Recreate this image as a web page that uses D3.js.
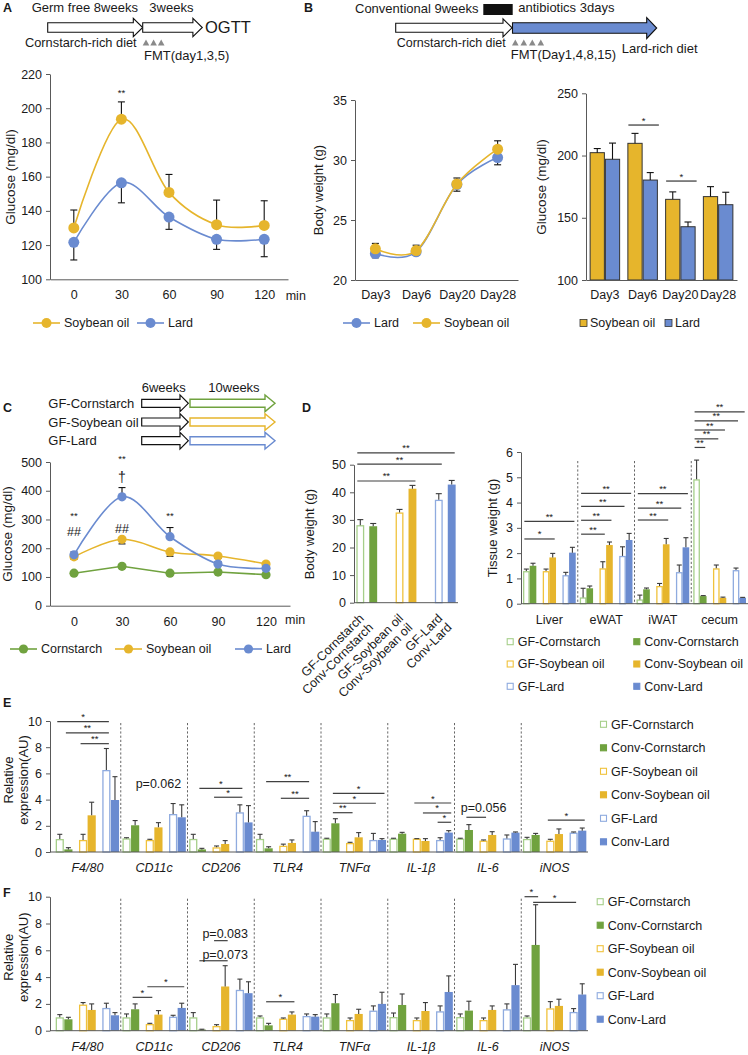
<!DOCTYPE html>
<html><head><meta charset="utf-8">
<script src="https://cdn.jsdelivr.net/npm/d3@7"></script>
<style>
body{margin:0;background:#fff}
svg{display:block;font-family:"Liberation Sans",Arial,sans-serif}
</style></head><body>
<svg id="fig" width="748" height="1055"></svg>
<script>
// ---- data ----
const aTimes = ["0", "30", "60", "90", "120"];
const aSoy = [130, 193.6, 150.8, 131.9, 131.5];
const aSoyErr = [10.5, 10.1, 10.5, 14.4, 14.4];
const aLard = [121.6, 156.4, 136.4, 123.4, 123.4];
const aLardErr = [10.3, 11.7, 7.2, 5.9, 10.2];

const bDays = ["Day3", "Day6", "Day20", "Day28"];
const bwSoy = [22.6, 22.45, 28.0, 30.9];
const bwSoyErr = [0.45, 0.45, 0.5, 0.7];
const bwLard = [22.2, 22.35, 27.95, 30.2];
const bwLardErr = [0.35, 0.3, 0.55, 0.6];
const bgSoy = [202.3, 209.8, 164.8, 167];
const bgSoyErr = [3.3, 8, 6, 8];
const bgLard = [197, 180.3, 142.8, 160.5];
const bgLardErr = [13, 6, 3.8, 10];

const cTimes = ["0", "30", "60", "90", "120"];
const cCorn = [113, 137, 113, 117, 108];
const cCornErr = [5, 6, 5, 5, 5];
const cSoy = [170, 231, 187, 173, 145];
const cSoyErr = [8, 16, 15, 8, 8];
const cLard = [177, 379, 240, 145, 130];
const cLardErr = [10, 32, 32, 8, 6];
// [time, text, glucose level]
const cNotes = [["0", "**", 321], ["0", "##", 257], ["30", "**", 518], ["30", "†", 449], ["30", "##", 269], ["60", "**", 321]];

const SERIES = ["GF-Cornstarch", "Conv-Cornstarch", "GF-Soybean oil", "Conv-Soybean oil", "GF-Lard", "Conv-Lard"];
const diets = ["Cornstarch", "Soybean oil", "Lard"];

const dbVals = [28.1, 27.7, 32.7, 41.3, 37.3, 42.8];
const dbErr = [2.0, 1.0, 1.1, 1.2, 2.2, 1.5];
const dbSig = [[0, 0, 3, 44.1, "**"], [0, 0, 4, 50.2, "**"], [0, 0, 5, 54.3, "**"]];

const tissues = ["Liver", "eWAT", "iWAT", "cecum"];
const tVals = [
  [1.29, 0.25, 0.17, 4.92],
  [1.5, 0.61, 0.57, 0.3],
  [1.29, 1.4, 0.7, 1.4],
  [1.83, 2.32, 2.35, 0.23],
  [1.13, 1.89, 1.25, 1.33],
  [2.02, 2.52, 2.23, 0.23]
];
const tErr = [
  [0.08, 0.36, 0.17, 0.76],
  [0.1, 0.09, 0.05, 0.02],
  [0.08, 0.26, 0.1, 0.13],
  [0.16, 0.12, 0.23, 0.03],
  [0.11, 0.36, 0.28, 0.08],
  [0.21, 0.26, 0.38, 0.02]
];
const tSig = [
  [0, 0, 5, 3.26, "**"], [0, 0, 3, 2.56, "*"],
  [1, 0, 2, 2.75, "**"], [1, 0, 3, 3.3, "**"], [1, 0, 4, 3.85, "**"], [1, 0, 5, 4.36, "**"],
  [2, 0, 3, 3.31, "**"], [2, 0, 4, 3.78, "**"], [2, 0, 5, 4.35, "**"],
  [3, 0, 1, 6.18, "**"], [3, 0, 2, 6.52, "**"], [3, 0, 3, 6.87, "**"], [3, 0, 4, 7.23, "**"], [3, 0, 5, 7.59, "**"]
];

const genes = ["F4/80", "CD11c", "CD206", "TLR4", "TNFα", "IL-1β", "IL-6", "iNOS"];
const eVals = [
  [0.99, 1.04, 1.0, 1.0, 1.02, 1.02, 1.02, 1.0],
  [0.2, 2.04, 0.2, 0.28, 2.19, 1.4, 1.68, 1.3],
  [0.92, 0.92, 0.36, 0.48, 0.69, 1.02, 0.87, 0.87],
  [2.8, 1.88, 0.61, 0.69, 1.12, 0.84, 1.3, 1.37],
  [6.26, 2.9, 3.03, 2.77, 0.92, 0.92, 1.04, 1.48],
  [3.97, 2.65, 2.26, 1.55, 0.92, 1.48, 1.48, 1.63]
];
const eErr = [
  [0.36, 0.05, 0.35, 0.35, 0.03, 0.03, 0.03, 0.12],
  [0.13, 0.36, 0.08, 0.12, 0.35, 0.1, 0.41, 0.12],
  [0.43, 0.05, 0.1, 0.12, 0.05, 0.0, 0.05, 0.1],
  [1.0, 0.36, 0.26, 0.23, 0.36, 0.18, 0.25, 0.39],
  [1.64, 0.8, 0.57, 0.38, 0.5, 0.17, 0.26, 0.05],
  [1.78, 0.95, 1.28, 0.77, 0.1, 0.15, 0.05, 0.2]
];
const eSig = [
  [0, 0, 4, 9.95, "*"], [0, 1, 4, 9.1, "**"], [0, 2, 4, 8.27, "**"],
  [2, 1, 4, 4.86, "*"], [2, 2, 4, 4.18, "*"],
  [3, 1, 4, 5.37, "**"], [3, 2, 4, 4.1, "**"],
  [4, 1, 5, 4.48, "*"], [4, 1, 4, 3.72, "*"], [4, 1, 2, 3.0, "**"],
  [5, 2, 5, 3.74, "*"], [5, 3, 5, 2.98, "*"], [5, 4, 5, 2.27, "*"],
  [6, 1, 2, 2.65, ""],
  [7, 2, 5, 2.44, "*"]
];
const eNotes = [[1, 3, 4.89, "p=0.062"], [6, 2, 3.05, "p=0.056"]];

const fVals = [
  [1.0, 1.0, 1.0, 1.0, 1.0, 1.02, 1.02, 1.0],
  [0.85, 1.6, 0.08, 0.4, 2.05, 1.92, 1.5, 6.4],
  [1.95, 0.5, 0.35, 0.9, 0.8, 0.8, 0.8, 1.67],
  [1.55, 1.2, 3.3, 1.2, 1.25, 1.47, 1.55, 1.85],
  [1.7, 1.05, 3.05, 1.1, 1.5, 1.45, 1.6, 1.4],
  [1.15, 1.7, 2.8, 1.05, 2.0, 2.89, 3.4, 2.7]
];
const fErr = [
  [0.2, 0.25, 0.35, 0.1, 0.25, 0.3, 0.23, 0.1],
  [0.15, 0.4, 0.03, 0.15, 0.65, 0.82, 0.7, 3.0],
  [0.15, 0.05, 0.1, 0.05, 0.15, 0.15, 0.15, 0.5],
  [0.45, 0.3, 1.55, 0.2, 0.35, 0.63, 0.3, 0.5],
  [0.35, 0.1, 0.8, 0.15, 0.35, 0.4, 0.4, 0.25],
  [0.2, 0.35, 0.85, 0.15, 0.87, 1.2, 1.55, 0.8]
];
const fSig = [
  [1, 1, 2, 2.49, "*"], [1, 2, 5, 3.28, "*"],
  [2, 2, 3, 6.72, ""], [2, 1, 3, 5.22, ""],
  [3, 1, 3, 2.16, "*"],
  [7, 0, 1, 10.0, "*"], [7, 1, 4, 9.58, "*"]
];
const fNotes = [[2, 3, 6.92, "p=0.083"], [2, 3, 5.35, "p=0.073"]];

// ---- style ----
const YEL = "#E6B52C", BLU = "#6A8BD0", GRN = "#70A23F";
const SER_STROKE = ["#A6CF8A", GRN, "#F0C23C", YEL, "#8FABDF", BLU];
const SER_OPEN = [true, false, true, false, true, false];
const AX = "#595959", INK = "#1a1a1a";
const FS = 12.5;

const svg = d3.select("#fig");

function T(x, y, s, o = {}) {
  return svg.append("text").attr("x", x).attr("y", y)
    .attr("font-size", o.size || FS).attr("fill", o.fill || INK)
    .attr("text-anchor", o.anchor || "start")
    .attr("font-weight", o.weight || null)
    .attr("font-style", o.italic ? "italic" : null)
    .attr("dy", o.dy || null)
    .text(s);
}
function yLabel(lines, x, yc, size, gap) {
  const t = svg.append("text").attr("transform", `translate(${x},${yc}) rotate(-90)`)
    .attr("text-anchor", "middle").attr("font-size", size).attr("fill", INK);
  lines.forEach((l, i) => t.append("tspan").attr("x", 0).attr("dy", i ? gap : "0.35em").text(l));
}
function styleAxis(ax) {
  ax.attr("font-size", FS).attr("font-family", null);
  ax.select(".domain").attr("stroke", AX);
  ax.selectAll(".tick line").attr("stroke", AX);
  ax.selectAll(".tick text").attr("fill", INK);
  return ax;
}
function leftAxis(y, x, ticks) {
  return styleAxis(svg.append("g").attr("transform", `translate(${x},0)`)
    .call(d3.axisLeft(y).tickValues(ticks).tickFormat(d3.format("~g"))
      .tickSize(4).tickSizeOuter(0).tickPadding(4)));
}
function bottomAxis(x, y, pad, x0) {
  const ax = styleAxis(svg.append("g").attr("transform", `translate(0,${y})`)
    .call(d3.axisBottom(x).tickSize(0).tickPadding(pad)));
  if (x0 !== undefined) {
    ax.select(".domain").remove();
    svg.append("line").attr("x1", x0).attr("x2", x.range()[1]).attr("y1", y).attr("y2", y).attr("stroke", AX);
  }
  return ax;
}
function arrow(x0, x1, yc, bh, hh, hl, fill, stroke, sw) {
  const p = [[x0, yc - bh / 2], [x1 - hl, yc - bh / 2], [x1 - hl, yc - hh / 2], [x1, yc],
    [x1 - hl, yc + hh / 2], [x1 - hl, yc + bh / 2], [x0, yc + bh / 2]];
  svg.append("path").attr("d", "M" + p.join("L") + "Z").attr("fill", fill)
    .attr("stroke", stroke).attr("stroke-width", sw || 1.1).attr("stroke-linejoin", "miter");
}
function triangles(x, n, step) {
  d3.range(n).forEach(i => {
    const x0 = x + i * step;
    svg.append("path").attr("d", `M${x0},45.5L${x0 + 3.3},39.5L${x0 + 6.6},45.5Z`).attr("fill", "#8a8a8a");
  });
}
function errLine(x, y0, y1, cap, color) {
  svg.append("line").attr("x1", x).attr("x2", x).attr("y1", y0).attr("y2", y1)
    .attr("stroke", color || "#111").attr("stroke-width", 1.1);
  svg.append("line").attr("x1", x - cap / 2).attr("x2", x + cap / 2).attr("y1", y1).attr("y2", y1)
    .attr("stroke", color || "#111").attr("stroke-width", 1.1);
}
function lineSeries(x, y, cats, vals, errs, dir, color, r, curve) {
  const pts = cats.map((c, i) => [x(c), y(vals[i])]);
  cats.forEach((c, i) => errLine(x(c), y(vals[i]), y(vals[i] + dir * errs[i]), 7));
  svg.append("path").attr("d", d3.line().curve(curve)(pts)).attr("fill", "none")
    .attr("stroke", color).attr("stroke-width", 1.6);
  svg.append("g").selectAll("circle").data(pts).join("circle")
    .attr("cx", d => d[0]).attr("cy", d => d[1]).attr("r", r).attr("fill", color);
}
function lineLegend(items, y, r) {
  items.forEach(([x, label, color]) => {
    svg.append("line").attr("x1", x).attr("x2", x + 27).attr("y1", y).attr("y2", y)
      .attr("stroke", color).attr("stroke-width", 1.6);
    svg.append("circle").attr("cx", x + 13.5).attr("cy", y).attr("r", r).attr("fill", color);
    T(x + 31, y, label, { dy: "0.35em" });
  });
}
function sqLegend(items, size) {
  items.forEach(([x, y, s]) => {
    const open = SER_OPEN[s];
    svg.append("rect").attr("x", x + 0.5).attr("y", y - size / 2 + 0.5).attr("width", size - 1).attr("height", size - 1)
      .attr("fill", open ? "#fff" : SER_STROKE[s]).attr("stroke", SER_STROKE[s]).attr("stroke-width", 1.1);
    T(x + size + 4, y, SERIES[s], { dy: "0.35em" });
  });
}
function drawBars(vals, errs, xOf, w, y, cap) {
  vals.forEach((row, s) => row.forEach((v, g) => {
    const x = xOf(g, s), y0 = y(0), yv = y(v);
    const sw = 1.3;
    svg.append("rect")
      .attr("x", SER_OPEN[s] ? x + sw / 2 : x).attr("y", SER_OPEN[s] ? yv + sw / 2 : yv)
      .attr("width", SER_OPEN[s] ? w - sw : w).attr("height", Math.max(0, y0 - yv - (SER_OPEN[s] ? sw / 2 : 0)))
      .attr("fill", SER_OPEN[s] ? "#fff" : SER_STROKE[s])
      .attr("stroke", SER_OPEN[s] ? SER_STROKE[s] : "none").attr("stroke-width", sw);
    errLine(x + w / 2, yv, y(v + errs[s][g]), cap, "#3a3a3a");
  }));
}
function sigDraw(list, cx, y, pad) {
  list.forEach(([g, a, b, v, t]) => {
    const x1 = cx(g, a) - pad, x2 = cx(g, b) + pad, yy = y(v);
    svg.append("line").attr("x1", x1).attr("x2", x2).attr("y1", yy).attr("y2", yy)
      .attr("stroke", "#404040").attr("stroke-width", 1.2);
    if (t) T((x1 + x2) / 2, yy - 1.5, t, { size: 9.5, anchor: "middle" });
  });
}
function notesDraw(list, cx, y) {
  list.forEach(([g, s, v, t]) => T(cx(g, s), y(v), t, { anchor: "middle" }));
}
function nested(groups, range, pI, pO, bI) {
  const gx = d3.scaleBand().domain(d3.range(groups.length)).range(range);
  const px = d3.scaleBand().domain([0, 1, 2]).range([0, gx.bandwidth()]).paddingInner(pI).paddingOuter(pO);
  const bx = d3.scaleBand().domain([0, 1]).range([0, px.bandwidth()]).paddingInner(bI);
  const gl = d3.scaleBand().domain(groups).range(range);
  const left = (g, s) => gx(g) + px(Math.floor(s / 2)) + bx(s % 2);
  return { gx, gl, w: bx.bandwidth(), left, center: (g, s) => left(g, s) + bx.bandwidth() / 2 };
}
function separators(gx, n, yTop, yBot) {
  d3.range(1, n).forEach(i => svg.append("line").attr("x1", gx(i)).attr("x2", gx(i))
    .attr("y1", yTop).attr("y2", yBot).attr("stroke", "#555").attr("stroke-width", 0.9)
    .attr("stroke-dasharray", "2.2,2"));
}

// ---- panel letters ----
[["A", 3, 12], ["B", 304, 12], ["C", 3, 412], ["D", 302, 412], ["E", 3, 707], ["F", 3, 897]]
  .forEach(([s, x, y]) => T(x, y, s, { weight: "bold", size: 12.5 }));

// ---- A schematic ----
T(31.7, 12, "Germ free 8weeks", { size: 13 });
T(149.3, 12, "3weeks", { size: 13 });
arrow(47.7, 142.7, 27.5, 9.6, 18.4, 9.4, "#fff", "#111");
arrow(142.7, 202.3, 27.5, 9.6, 18.4, 9.4, "#fff", "#111");
T(205, 33.3, "OGTT", { size: 16.5 });
T(25, 47.3, "Cornstarch-rich diet", { size: 12.8 });
triangles(142.7, 3, 7.6);
T(144, 59.5, "FMT(day1,3,5)", { size: 13 });

// ---- A chart ----
{
  const x = d3.scalePoint().domain(aTimes).range([50, 288]).padding(0.5);
  const y = d3.scaleLinear().domain([100, 220]).range([279.3, 74]);
  leftAxis(y, 50, d3.range(100, 221, 20));
  bottomAxis(x, 279.3, 11);
  T(285.7, 299.5, "min");
  yLabel(["Glucose (mg/dl)"], 10, 177, 13.5);
  const curve = d3.curveCardinal.tension(0);
  lineSeries(x, y, aTimes, aLard, aLardErr, -1, BLU, 5.5, curve);
  lineSeries(x, y, aTimes, aSoy, aSoyErr, 1, YEL, 5.5, curve);
  T(x("30"), y(210), "**", { size: 9.5, anchor: "middle", dy: "0.55em" });
  lineLegend([[33, "Soybean oil", YEL], [137, "Lard", BLU]], 323, 5);
}

// ---- B schematic ----
T(355, 12.5, "Conventional 9weeks", { size: 13 });
svg.append("rect").attr("x", 483.3).attr("y", 4).attr("width", 29.4).attr("height", 11).attr("fill", "#111");
T(518.3, 11.5, "antibiotics 3days", { size: 13 });
arrow(395.7, 512, 27.8, 9, 18, 9, "#fff", "#111");
arrow(512.5, 656.7, 28, 10.6, 21, 10, BLU, "#111");
T(396.7, 47.3, "Cornstarch-rich diet", { size: 12.5 });
triangles(512, 4, 8.5);
T(510.7, 58.5, "FMT(Day1,4,8,15)", { size: 13 });
T(621.7, 53.3, "Lard-rich diet", { size: 13 });

// ---- B body weight ----
{
  const x = d3.scalePoint().domain(bDays).range([355, 518]).padding(0.5);
  const y = d3.scaleLinear().domain([20, 35]).range([280, 100]);
  leftAxis(y, 355, [20, 25, 30, 35]);
  bottomAxis(x, 280, 10.6);
  yLabel(["Body weight (g)"], 318, 190, 13);
  const curve = d3.curveCardinal.tension(0);
  lineSeries(x, y, bDays, bwLard, bwLardErr, -1, BLU, 5.5, curve);
  lineSeries(x, y, bDays, bwSoy, bwSoyErr, 1, YEL, 5.5, curve);
  lineLegend([[343, "Lard", BLU], [413, "Soybean oil", YEL]], 323, 5);
}

// ---- B glucose bars ----
{
  const x = d3.scaleBand().domain(bDays).range([586, 737]).paddingInner(0.192).paddingOuter(0.096);
  const inner = d3.scaleBand().domain([0, 1]).range([0, x.bandwidth()]);
  const y = d3.scaleLinear().domain([100, 250]).range([280, 93.3]);
  const w = inner.bandwidth();
  [[bgSoy, bgSoyErr, YEL], [bgLard, bgLardErr, BLU]].forEach(([vals, errs, col], k) => {
    vals.forEach((v, i) => {
      const x0 = x(bDays[i]) + inner(k);
      svg.append("rect").attr("x", x0 + 0.5).attr("y", y(v)).attr("width", w - 1).attr("height", y(100) - y(v))
        .attr("fill", col).attr("stroke", "#333").attr("stroke-width", 1);
      errLine(x0 + w / 2, y(v), y(v + errs[i]), 7);
    });
  });
  leftAxis(y, 586, [100, 150, 200, 250]);
  bottomAxis(x, 280, 10.6);
  yLabel(["Glucose (mg/dl)"], 541.5, 187, 13.5);
  [[1, 224.5], [2, 179.5]].forEach(([i, v]) => {
    const x1 = x(bDays[i]) + 1, x2 = x(bDays[i]) + x.bandwidth() + 1, yy = y(v);
    svg.append("line").attr("x1", x1).attr("x2", x2).attr("y1", yy).attr("y2", yy).attr("stroke", "#333").attr("stroke-width", 1.2);
    T((x1 + x2) / 2, yy - 1.5, "*", { size: 9.5, anchor: "middle" });
  });
  [[580, "Soybean oil", YEL], [665, "Lard", BLU]].forEach(([lx, label, col]) => {
    svg.append("rect").attr("x", lx).attr("y", 319.5).attr("width", 7).attr("height", 7).attr("fill", col).attr("stroke", "#333").attr("stroke-width", 0.8);
    T(lx + 10, 323, label, { dy: "0.35em" });
  });
}

// ---- C schematic ----
T(141.7, 391.5, "6weeks", { size: 13 });
T(208.3, 391.5, "10weeks", { size: 13 });
[[403.3, "GF-Cornstarch", GRN], [422, "GF-Soybean oil", YEL], [440.7, "GF-Lard", BLU]].forEach(([yc, label, col]) => {
  T(48.3, yc + 4.5, label, { size: 13 });
  arrow(141.7, 188.3, yc, 8, 16.7, 8.3, "#fff", "#111", 1.2);
  arrow(190, 275, yc, 8, 16.7, 10, "#fff", col, 1.4);
});

// ---- C chart ----
{
  const x = d3.scalePoint().domain(cTimes).range([50, 290]).padding(0.5);
  const y = d3.scaleLinear().domain([0, 500]).range([605.7, 462]);
  leftAxis(y, 50, d3.range(0, 501, 100));
  bottomAxis(x, 605.7, 11.5);
  T(285, 623.8, "min");
  yLabel(["Glucose (mg/dl)"], 7, 534, 13.5);
  const curve = d3.curveCardinal.tension(0);
  lineSeries(x, y, cTimes, cCorn, cCornErr, -1, GRN, 4.6, d3.curveLinear);
  lineSeries(x, y, cTimes, cSoy, cSoyErr, -1, YEL, 4.6, curve);
  lineSeries(x, y, cTimes, cLard, cLardErr, 1, BLU, 4.6, curve);
  cNotes.forEach(([t, s, v]) => {
    const star = s === "**";
    T(x(t), y(v), s, { anchor: "middle", size: star ? 9.5 : (s === "†" ? 14 : 12.5), dy: star ? "0.55em" : "0.35em" });
  });
  lineLegend([[10, "Cornstarch", GRN], [115, "Soybean oil", YEL], [235, "Lard", BLU]], 649, 4.6);
}

// ---- D body weight ----
{
  const gx = d3.scaleBand().domain(d3.range(3)).range([354, 458]).paddingInner(0.47).paddingOuter(0.06);
  const bx = d3.scaleBand().domain([0, 1]).range([0, gx.bandwidth()]).paddingInner(0.39);
  const y = d3.scaleLinear().domain([0, 50]).range([602.7, 464.7]);
  const left = (g, s) => gx(Math.floor(s / 2)) + bx(s % 2);
  drawBars(dbVals.map(v => [v]), dbErr.map(v => [v]), (g, s) => left(0, s), bx.bandwidth(), y, 6);
  leftAxis(y, 354, d3.range(0, 51, 10));
  svg.append("line").attr("x1", 354).attr("x2", 458).attr("y1", y(0)).attr("y2", y(0)).attr("stroke", AX);
  yLabel(["Body weight (g)"], 309, 534, 13);
  sigDraw(dbSig, (g, s) => left(0, s) + bx.bandwidth() / 2, y, 3);
  diets.forEach((d, i) => {
    const cx = gx(i) + gx.bandwidth() / 2;
    const t = svg.append("text").attr("transform", `translate(${cx - 2},619) rotate(-45)`)
      .attr("text-anchor", "end").attr("font-size", FS).attr("fill", INK);
    t.append("tspan").attr("x", 0).attr("dy", 0).text("GF-" + d);
    t.append("tspan").attr("x", 0).attr("dy", 13).text("Conv-" + d);
  });
}

// ---- D tissue weight ----
{
  const L = nested(tissues, [521, 748], 0.325, 0.1025, 0);
  const y = d3.scaleLinear().domain([0, 6]).range([603.7, 452]);
  separators(L.gx, tissues.length, 461, 603.7);
  drawBars(tVals, tErr, L.left, L.w, y, 5);
  leftAxis(y, 521, d3.range(0, 7));
  bottomAxis(L.gl, 603.7, 11.2, 521);
  yLabel(["Tissue weight (g)"], 492, 528, 13);
  sigDraw(tSig, L.center, y, 2);
  sqLegend([[506.7, 641.7, 0], [633.3, 641.7, 1], [506.7, 664, 2], [633.3, 664, 3], [506.7, 686.3, 4], [633.3, 686.3, 5]], 7);
}

// ---- E / F expression ----
function exprPanel(vals, errs, sig, notes, yTop, yBot, legendX, legendY0) {
  const L = nested(genes, [54, 588], 0.28, 0.0725, 0.05);
  const y = d3.scaleLinear().domain([0, 10]).range([yBot, yTop]);
  separators(L.gx, genes.length, yTop + 2, yBot);
  drawBars(vals, errs, L.left, L.w, y, 5);
  leftAxis(y, 50, d3.range(0, 11, 2));
  bottomAxis(L.gl, yBot, 11.5, 50).selectAll(".tick text").attr("font-style", "italic");
  yLabel(["Relative", "expression(AU)"], 8.5, (yTop + yBot) / 2 - 6.5, 13, 14.5);
  sigDraw(sig, L.center, y, 2.5);
  notesDraw(notes, L.center, y);
  sqLegend(SERIES.map((s, i) => [legendX, legendY0 + i * 23.5, i]), 7);
}
exprPanel(eVals, eErr, eSig, eNotes, 721, 852, 600, 724.3);
exprPanel(fVals, fErr, fSig, fNotes, 896.7, 1030.7, 596.7, 901.7);
</script></body></html>
